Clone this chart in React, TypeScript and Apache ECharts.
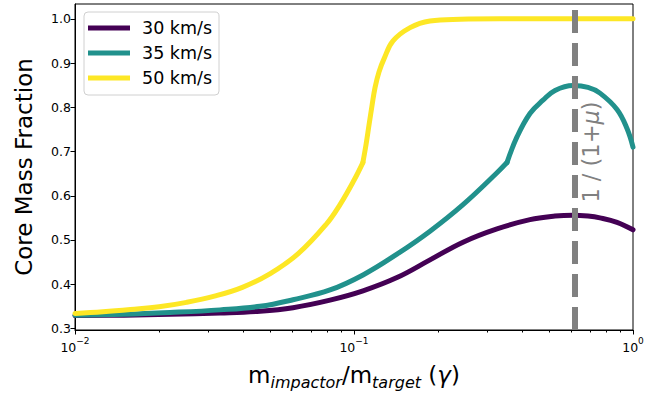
import React, { useEffect, useRef } from "react";
import * as echarts from "echarts";

// Mass ratio gamma (x) and core mass fraction (y) for each impact velocity
const gamma30 = [0.01, 0.01498, 0.0219, 0.03309, 0.04603, 0.06045, 0.08204, 0.10772, 0.14256, 0.18724, 0.24589, 0.32546, 0.42727, 0.5254, 0.60926, 0.68982, 0.76139, 0.87648, 1.0];
const cmf30 = [0.329, 0.330, 0.332, 0.335, 0.339, 0.347, 0.364, 0.385, 0.415, 0.455, 0.495, 0.525, 0.546, 0.554, 0.556, 0.554, 0.550, 0.540, 0.523];

const gamma35 = [0.01, 0.01498, 0.0219, 0.03309, 0.04603, 0.06045, 0.08204, 0.10772, 0.14256, 0.18724, 0.24589, 0.32546, 0.35341, 0.38384, 0.42727, 0.47575, 0.5254, 0.60926, 0.68982, 0.76139, 0.87648, 0.9517, 1.0];
const cmf35 = [0.330, 0.332, 0.336, 0.342, 0.350, 0.365, 0.387, 0.421, 0.468, 0.520, 0.580, 0.652, 0.675, 0.733, 0.786, 0.816, 0.838, 0.849, 0.845, 0.832, 0.795, 0.752, 0.710];
const kink35 = 0.35341;

const gamma50 = [0.01, 0.0126, 0.0158, 0.02, 0.0251, 0.0316, 0.0398, 0.0501, 0.0631, 0.0794, 0.0891, 0.1, 0.1076, 0.1104, 0.1132, 0.1161, 0.119, 0.1229, 0.1282, 0.138, 0.1589, 0.1872, 0.24, 0.333, 0.5, 1.0];
const cmf50 = [0.334, 0.338, 0.343, 0.349, 0.359, 0.373, 0.393, 0.424, 0.469, 0.535, 0.58, 0.635, 0.675, 0.715, 0.76, 0.805, 0.845, 0.88, 0.91, 0.95, 0.98, 0.995, 0.999, 1.0, 1.0, 1.0];
const kink50 = 0.1076;

const seriesNames = ["30 km/s", "35 km/s", "50 km/s"];
const seriesColors = ["#440154", "#21918c", "#fde725"];

const yTicks = [0.3, 0.4, 0.5, 0.6, 0.7, 0.8, 0.9, 1.0];
const xMinorTicks = [0.02, 0.03, 0.04, 0.05, 0.06, 0.07, 0.08, 0.09, 0.2, 0.3, 0.4, 0.5, 0.6, 0.7, 0.8, 0.9];
const gammaCrit = 0.616; // 1/(1+mu)

const FONT = "DejaVu Sans";

const zip = (xs: number[], ys: number[]) => xs.map((x, i) => [x, ys[i]]);

export default function App() {
  const ref = useRef<HTMLDivElement>(null);
  useEffect(() => {
    if (!ref.current) return;
    const chart = echarts.init(ref.current, null, { renderer: "svg" });
    const d30 = zip(gamma30, cmf30);
    const d35 = zip(gamma35, cmf35);
    const d50 = zip(gamma50, cmf50);
    // split curves at their kinks so that smoothing keeps the kinks sharp
    const parts: { idx: number; data: number[][] }[] = [
      { idx: 0, data: d30 },
      { idx: 1, data: d35.filter((p) => p[0] <= kink35) },
      { idx: 1, data: d35.filter((p) => p[0] >= kink35) },
      { idx: 2, data: d50.filter((p) => p[0] <= kink50) },
      { idx: 2, data: d50.filter((p) => p[0] >= kink50) },
    ];
    const expLabel = (v: number) => {
      const e = Math.round(Math.log10(v));
      const es = e < 0 ? "\u2212" + Math.abs(e) : String(e);
      return "{b|10}{e|" + es + "}";
    };
    chart.setOption({
      animation: false,
      textStyle: { fontFamily: FONT },
      grid: {
        left: 75,
        right: 39,
        top: 4,
        bottom: 64,
        show: true,
        borderColor: "#000",
        borderWidth: 1,
      },
      legend: {
        data: seriesNames,
        orient: "vertical",
        left: 84,
        top: 12,
        icon: "rect",
        itemWidth: 42,
        itemHeight: 5,
        itemGap: 5,
        padding: [6, 7, 7, 4],
        borderColor: "#d0d0d0",
        borderWidth: 1,
        borderRadius: 4,
        backgroundColor: "rgba(255,255,255,0.85)",
        textStyle: {
          fontFamily: FONT,
          fontSize: 17.5,
          color: "#000",
          lineHeight: 20,
          padding: [0, 0, 0, 7],
        },
      },
      xAxis: [
        {
          type: "log",
          logBase: 10,
          min: 0.01,
          max: 1,
          name: "{n|m}{s|impactor}{n|/m}{s|target}{n| (}{g|\u03b3}{n|)}",
          nameLocation: "middle",
          nameGap: 30,
          nameTextStyle: {
            rich: {
              n: { fontFamily: FONT, fontSize: 23, color: "#000", lineHeight: 30, verticalAlign: "middle" },
              g: { fontFamily: FONT, fontSize: 23, fontStyle: "italic", color: "#000", lineHeight: 30, verticalAlign: "middle" },
              s: { fontFamily: FONT, fontSize: 16, fontStyle: "italic", color: "#000", lineHeight: 22, verticalAlign: "bottom" },
            },
          },
          axisLine: { lineStyle: { color: "#000", width: 1 } },
          axisTick: { show: true, length: 4.5, inside: false, lineStyle: { color: "#000" } },
          axisLabel: {
            margin: 6,
            formatter: (v: number) => expLabel(v),
            rich: {
              b: { fontFamily: FONT, fontSize: 12.5, color: "#000", lineHeight: 18, verticalAlign: "bottom" },
              e: { fontFamily: FONT, fontSize: 9, color: "#000", lineHeight: 10, verticalAlign: "top" },
            },
          },
          splitLine: { show: false },
        },
        {
          type: "log",
          logBase: 10,
          min: 0.01,
          max: 1,
          position: "bottom",
          axisLine: { show: false },
          axisLabel: { show: false },
          axisTick: { show: true, length: 2.5, customValues: xMinorTicks, lineStyle: { color: "#000" } },
          splitLine: { show: false },
        },
      ],
      yAxis: {
        type: "value",
        min: 0.2965,
        max: 1.0335,
        name: "Core Mass Fraction",
        nameLocation: "middle",
        nameGap: 40,
        nameTextStyle: { fontFamily: FONT, fontSize: 23, color: "#000" },
        axisLine: { show: true, lineStyle: { color: "#000", width: 1 } },
        axisTick: { show: true, length: 4.5, customValues: yTicks, lineStyle: { color: "#000" } },
        axisLabel: {
          customValues: yTicks,
          margin: 4,
          fontFamily: FONT,
          fontSize: 12.5,
          color: "#000",
          formatter: (v: number) => v.toFixed(1),
        },
        splitLine: { show: false },
      },
      series: [
        ...parts.map((p) => ({
          name: seriesNames[p.idx],
          type: "line",
          data: p.data,
          showSymbol: false,
          symbol: "none",
          smooth: 0.4,
          lineStyle: { color: seriesColors[p.idx], width: 5, cap: "round", join: "round" },
          itemStyle: { color: seriesColors[p.idx] },
          z: 2 + p.idx,
        })),
        {
          name: "crit",
          type: "line",
          data: [],
          z: 10,
          markLine: {
            silent: true,
            symbol: ["none", "none"],
            label: { show: false },
            lineStyle: { color: "#808080", type: [23, 10], width: 6 },
            data: [{ xAxis: gammaCrit }],
          },
        },
      ],
      graphic: [
        {
          type: "text",
          x: 591,
          y: 152,
          rotation: Math.PI / 2,
          z: 20,
          style: {
            text: "{a|1 / (1+}{m|\u03bc}{a|)}",
            align: "center",
            verticalAlign: "middle",
            rich: {
              a: { fontFamily: FONT, fontSize: 22.5, fill: "#808080" },
              m: { fontFamily: FONT, fontSize: 22.5, fontStyle: "italic", fill: "#808080" },
            },
          },
        },
      ],
    });
    return () => chart.dispose();
  }, []);
  return (
    <div
      ref={ref}
      style={{ position: "absolute", left: 0, top: 0, width: 672, height: 395 }}
    />
  );
}
